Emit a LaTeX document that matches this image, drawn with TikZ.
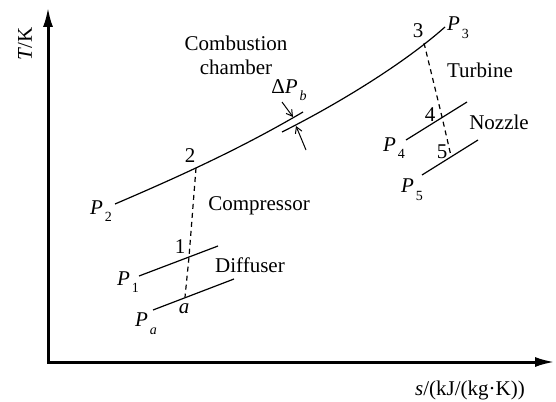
\documentclass[tikz,border=0pt]{standalone}
\usepackage{fontspec}
\setmainfont{Liberation Serif}
\usetikzlibrary{arrows.meta}
\newcommand{\pres}[1]{\textit{P}\kern1pt\raisebox{-0.8ex}{\scriptsize #1}}
\begin{document}
\begin{tikzpicture}[x=0.5pt,y=-0.5pt,font=\fontsize{10.5}{12}\selectfont]
            \useasboundingbox (0,0) rectangle (556,401);
            \coordinate (o) at (48,362);
            \coordinate (ytop) at (48,7);
            \coordinate (xend) at (555,362);
            \draw [line width=1.5pt, {Latex[length=10pt,width=5pt]}-{Latex[length=10pt,width=5pt]}] (ytop) -- (o) -- (xend);
            \node [rotate=90] (ylab) at (25,44) {\textit{T}/K};
            \node (xlab) at (470,390) {\textit{s}/(kJ/(kg·K))};
            \coordinate (s2) at (115,204);
            \coordinate (e2) at (303,112);
            \coordinate (s3) at (282,132);
            \coordinate (e3) at (445,27);
            \coordinate (st2) at (196,168);
            \coordinate (st1) at (189,257);
            \coordinate (sta) at (185,297);
            \coordinate (st3) at (424,43);
            \coordinate (st4) at (442,117);
            \coordinate (st5) at (451,156);
            \coordinate (l1) at (139,276); \coordinate (r1) at (218,246);
            \coordinate (la) at (153,310); \coordinate (ra) at (234,279);
            \coordinate (l4) at (406,140); \coordinate (r4) at (467,102);
            \coordinate (l5) at (422,175); \coordinate (r5) at (478,140);
            \draw [line width=0.6pt] (s2) .. controls (178,177) and (240,149) .. (e2);
            \draw [line width=0.6pt] (s3) .. controls (330,108) and (400,67) .. (e3);
            \foreach \i in {1,a,4,5} {
                \draw [line width=0.6pt] (l\i) -- (r\i);
            }
            \draw [line width=0.6pt, dash pattern=on 2.5pt off 2pt] (st2) -- (st1) -- (sta);
            \draw [line width=0.6pt, dash pattern=on 2.5pt off 2pt] (st3) -- (st4) -- (st5);
            \coordinate (db1) at (282,102); \coordinate (hb1) at (293,117);
            \coordinate (db2) at (306,150); \coordinate (hb2) at (296,126);
            \draw [line width=0.5pt, -{Straight Barb[length=3pt,width=3.5pt]}] (db1) -- (hb1);
            \draw [line width=0.5pt, -{Straight Barb[length=3pt,width=3.5pt]}] (db2) -- (hb2);
            \node (dpb) at (289,90) {Δ\pres{\textit{b}}};
            \node (n2) at (190,156) {2};
            \node (n1) at (180,247) {1};
            \node (na) at (184,309) {\textit{a}};
            \node (n3) at (418,31) {3};
            \node (n4) at (430,115) {4};
            \node (n5) at (442,152) {5};
            \node (lp2) at (101,211) {\pres{2}};
            \node (lp1) at (128,282) {\pres{1}};
            \node (lpa) at (146,324) {\pres{\textit{a}}};
            \node (lp3) at (458,28) {\pres{3}};
            \node (lp4) at (394,148) {\pres{4}};
            \node (lp5) at (412,190) {\pres{5}};
            \node [align=center] (comb) at (236,55) {Combustion\\chamber};
            \node (comp) at (259,206) {Compressor};
            \node (diff) at (250,265) {Diffuser};
            \node (turb) at (480,70) {Turbine};
            \node (nozz) at (499,122) {Nozzle};
        \end{tikzpicture}
\end{document}
